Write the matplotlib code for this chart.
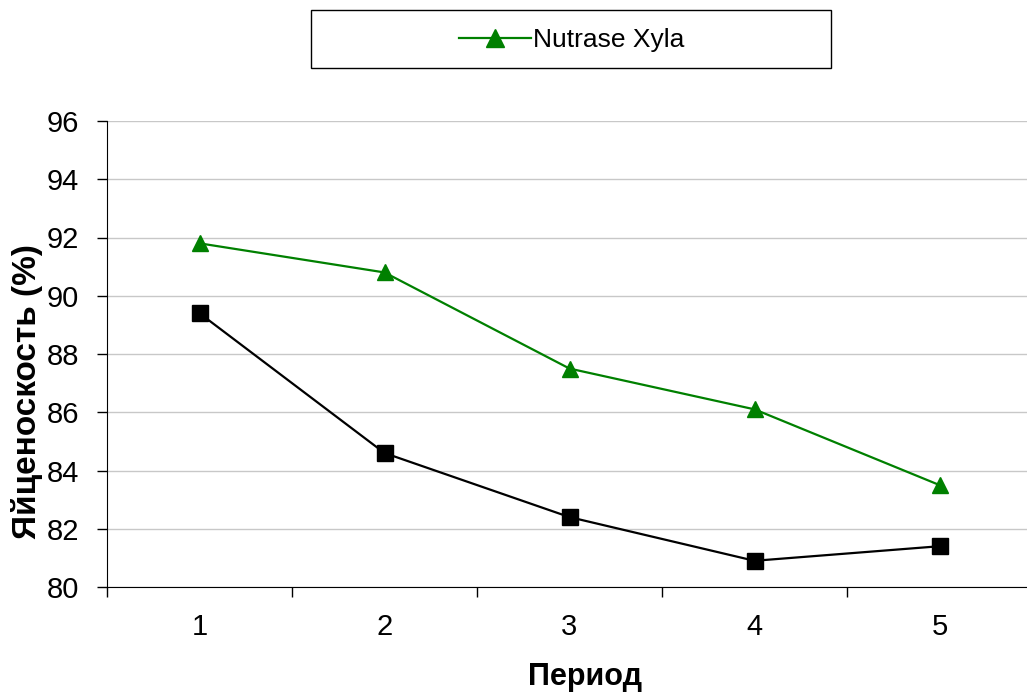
import matplotlib.pyplot as plt
from matplotlib.patches import Rectangle

# данные
periods = [1, 2, 3, 4, 5]
xyla = [91.8, 90.8, 87.5, 86.1, 83.5]
control = [89.4, 84.6, 82.4, 80.9, 81.4]

plt.rcParams['font.family'] = ['Liberation Sans', 'DejaVu Sans']

W, H = 1027, 693
fig = plt.figure(figsize=(W / 100, H / 100), dpi=100)
ax = fig.add_axes([107 / W, (H - 587) / H, 925 / W, 466 / H])

ax.plot(periods, control, color='black', lw=1.6, marker='s', ms=11,
        mfc='black', mec='black', label='_nolegend_', clip_on=False, zorder=3)
ax.plot(periods, xyla, color='green', lw=1.6, marker='^', ms=12,
        mfc='green', mec='green', label='Nutrase Xyla', clip_on=False, zorder=3)

ax.set_xlim(0.5, 5.5)
ax.set_ylim(80, 96)
ax.set_yticks(range(80, 97, 2))
ax.set_xticks(periods)
ax.set_xticks([0.5, 1.5, 2.5, 3.5, 4.5, 5.5], minor=True)
ax.tick_params(axis='x', which='major', length=0, labelsize=21, pad=19)
ax.tick_params(axis='x', which='minor', length=7, width=1, direction='out')
ax.tick_params(axis='y', length=7, width=1, direction='out', labelsize=21, pad=13)

ax.grid(axis='y', color='#c8c8c8', lw=1)
ax.set_axisbelow(True)
for s in ['top', 'right']:
    ax.spines[s].set_visible(False)
ax.spines['left'].set_color('black')
ax.spines['bottom'].set_color('black')

ax.set_ylabel('Яйценоскость (%)', fontsize=24, fontweight='bold')
ax.set_xlabel('Период', fontsize=22, fontweight='bold')
ax.yaxis.set_label_coords(-0.069, 0.42)
ax.xaxis.set_label_coords(0.517, -0.162)

# рамка легенды
fig.add_artist(Rectangle((311 / W, 1 - 68 / H), 520 / W, 58 / H,
                         transform=fig.transFigure, fill=False,
                         edgecolor='black', lw=1))
fig.legend(loc='center', bbox_to_anchor=(572 / W, 1 - 40 / H), frameon=False,
           fontsize=19, handlelength=2.7, handletextpad=0.1, markerscale=1.1)

fig.savefig('out.png', dpi=100)
